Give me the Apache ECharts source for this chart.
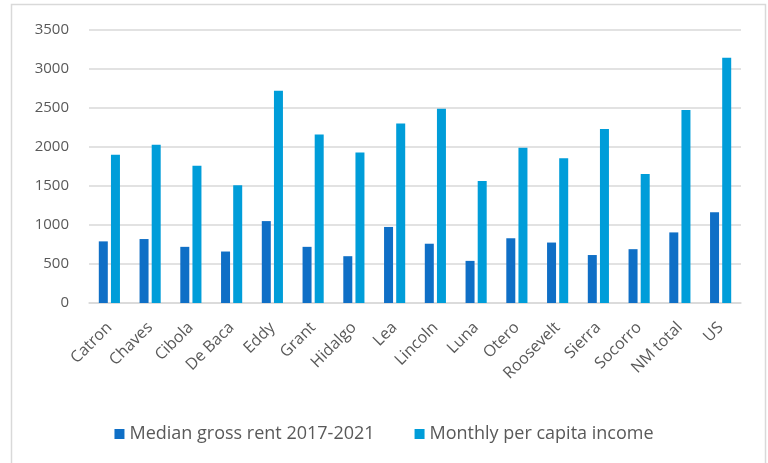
<!DOCTYPE html>
<html><head><meta charset="utf-8">
<script src="https://cdn.jsdelivr.net/npm/echarts@6/dist/echarts.min.js"></script>
<style>html,body{margin:0;padding:0;background:#fff}#c{width:768px;height:463px}</style>
</head><body><div id="c"></div>
<script>
const categories = ["Catron","Chaves","Cibola","De Baca","Eddy","Grant","Hidalgo","Lea","Lincoln","Luna","Otero","Roosevelt","Sierra","Socorro","NM total","US"];
const rentName = "Median gross rent 2017-2021";
const incomeName = "Monthly per capita income";
const rent = [790, 820, 720, 660, 1050, 720, 600, 975, 760, 540, 830, 775, 615, 690, 905, 1165];
const income = [1900, 2030, 1760, 1510, 2720, 2160, 1930, 2300, 2490, 1565, 1990, 1855, 2230, 1655, 2475, 3145];
const yTicks = {min: 0, max: 3500, interval: 500};

const FONT = "Open Sans";
const chart = echarts.init(document.getElementById('c'), null, {renderer: 'canvas'});
chart.setOption({
  animation: false,
  textStyle: {fontFamily: FONT},
  graphic: [{type: 'rect', shape: {x: 11.5, y: 4.5, width: 754, height: 470}, style: {fill: 'none', stroke: '#d9d9d9', lineWidth: 1.5}, silent: true}],
  grid: {left: 89, right: 27, top: 30, bottom: 160},
  legend: {
    top: 420, left: 'center', itemWidth: 10, itemHeight: 10, itemGap: 40,
    icon: 'rect',
    textStyle: {fontFamily: FONT, fontSize: 18, color: '#595959'},
    data: [rentName, incomeName]
  },
  xAxis: {
    type: 'category', data: categories,
    axisLine: {lineStyle: {color: '#d9d9d9', width: 1.5}},
    axisTick: {show: false},
    axisLabel: {rotate: 45, interval: 0, fontSize: 16, color: '#595959', fontFamily: FONT, margin: 22}
  },
  yAxis: {
    type: 'value', min: yTicks.min, max: yTicks.max, interval: yTicks.interval,
    axisLine: {show: false}, axisTick: {show: false},
    axisLabel: {fontSize: 15, color: '#595959', fontFamily: FONT, margin: 20, formatter: v => String(v)},
    splitLine: {lineStyle: {color: '#d9d9d9', width: 1.5}}
  },
  series: [
    {name: rentName, type: 'bar', data: rent, barWidth: 9, barGap: '35%', itemStyle: {color: '#0F6FC6'}},
    {name: incomeName, type: 'bar', data: income, barWidth: 9, itemStyle: {color: '#009DD9'}}
  ]
});
</script></body></html>
